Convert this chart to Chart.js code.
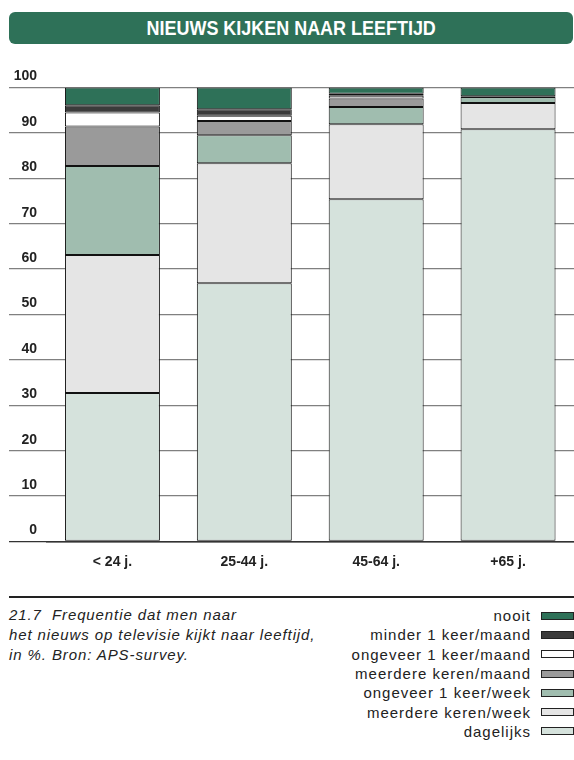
<!DOCTYPE html>
<html>
<head>
<meta charset="utf-8">
<script src="https://cdn.jsdelivr.net/npm/chart.js@4"></script>
<style>
  html, body { margin: 0; padding: 0; background: #fff; }
  body { width: 574px; height: 760px; position: relative; overflow: hidden; font-family: "Liberation Sans", Arial, sans-serif; }
  #title {
    position: absolute; left: 9px; top: 12px; width: 564px; height: 32px;
    background: #2e7158; border-radius: 6px; color: #fff;
    text-align: center; line-height: 32px;
  }
  #title span { display: inline-block; font-weight: bold; font-size: 21px; transform: scaleX(0.855); white-space: nowrap; }
  #wrap { position: absolute; left: 0; top: 50px; width: 574px; height: 540px; }
  #rule { position: absolute; left: 9px; top: 596px; width: 565px; height: 2px; background: #222; }
  #caption {
    position: absolute; left: 9px; top: 605px; font-style: italic; font-size: 15px;
    letter-spacing: 0.9px; line-height: 20px; color: #222;
  }
  #legend { position: absolute; right: 0; top: 606px; }
  #legend .row { height: 19.3px; display: flex; align-items: center; justify-content: flex-end; font-size: 15px; letter-spacing: 1px; color: #222; }
  #legend .box { width: 33px; height: 8px; border: 1px solid #222; margin-left: 10px; box-sizing: border-box; }
</style>
</head>
<body>
<div id="title"><span>NIEUWS KIJKEN NAAR LEEFTIJD</span></div>
<div id="wrap"><canvas id="chart"></canvas></div>
<div id="rule"></div>
<div id="caption">21.7&nbsp; Frequentie dat men naar<br>het nieuws op televisie kijkt naar leeftijd,<br>in %. Bron: APS-survey.</div>
<div id="legend"></div>
<script>
const categories = ["< 24 j.", "25-44 j.", "45-64 j.", "+65 j."];

// stacked bottom to top
const dagelijks = [32.7, 56.9, 75.4, 90.8];
const meerdereKerenWeek = [30.4, 26.4, 16.5, 5.8];
const ongeveer1Week = [19.6, 6.2, 3.8, 1.3];
const meerdereKerenMaand = [8.7, 3.1, 1.9, 0.2];
const ongeveer1Maand = [3.1, 1.2, 0.6, 0];
const minder1Maand = [1.6, 1.4, 0.4, 0];
const nooit = [3.9, 4.8, 1.4, 1.9];

const yTicks = [0, 10, 20, 30, 40, 50, 60, 70, 80, 90, 100];

const series = [
  { label: "dagelijks", data: dagelijks, color: "#d5e2dc" },
  { label: "meerdere keren/week", data: meerdereKerenWeek, color: "#e5e5e5" },
  { label: "ongeveer 1 keer/week", data: ongeveer1Week, color: "#a0bdaf" },
  { label: "meerdere keren/maand", data: meerdereKerenMaand, color: "#9a9a9a" },
  { label: "ongeveer 1 keer/maand", data: ongeveer1Maand, color: "#ffffff" },
  { label: "minder 1 keer/maand", data: minder1Maand, color: "#3b3b3b" },
  { label: "nooit", data: nooit, color: "#2e7158" },
];

const tickFont = { family: '"Liberation Sans", Arial, sans-serif', weight: "bold", size: 14 };

const chart = new Chart(document.getElementById("chart"), {
  type: "bar",
  data: {
    labels: categories,
    datasets: series.map((s) => ({
      label: s.label,
      data: s.data,
      backgroundColor: s.color,
      borderColor: "#111",
      borderWidth: 1,
      borderSkipped: false,
      categoryPercentage: 1,
      barPercentage: 0.72,
    })),
  },
  options: {
    responsive: true,
    maintainAspectRatio: false,
    animation: false,
    layout: { padding: { top: 37.5, left: 9, right: 0, bottom: 8.5 } },
    plugins: { legend: { display: false }, tooltip: { enabled: false } },
    scales: {
      x: {
        stacked: true,
        grid: { display: false, drawTicks: false },
        border: { color: "#333", width: 1.5 },
        afterFit: (scale) => { scale.height = 40; },
        ticks: { color: "#222", padding: 12, font: tickFont },
      },
      y: {
        stacked: true,
        min: 0,
        max: 100,
        afterFit: (scale) => { scale.width = 37.5; },
        afterBuildTicks: (scale) => { scale.ticks = yTicks.map((v) => ({ value: v })); },
        border: { display: false },
        grid: {
          color: (c) => (c.tick && c.tick.value === 0 ? "#333" : "#808080"),
          lineWidth: 1.3,
          tickLength: 37.5,
        },
        ticks: {
          color: "#222",
          padding: -28,
          labelOffset: -11,
          font: tickFont,
        },
      },
    },
  },
});

// legend, top item = top of stack
const legendEl = document.getElementById("legend");
series.slice().reverse().forEach((s) => {
  const row = document.createElement("div");
  row.className = "row";
  const txt = document.createElement("span");
  txt.textContent = s.label;
  const box = document.createElement("span");
  box.className = "box";
  box.style.background = s.color;
  row.append(txt, box);
  legendEl.appendChild(row);
});
</script>
</body>
</html>
